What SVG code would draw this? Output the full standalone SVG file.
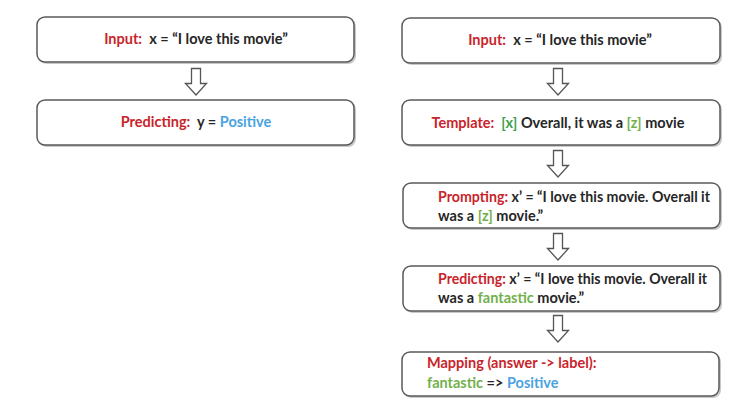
<svg xmlns="http://www.w3.org/2000/svg" width="741" height="402" viewBox="0 0 741 402">
<defs>
<style>
.box{fill:#fff;stroke:#5a5a5a;stroke-width:1.5}
.sh{fill:#c8c8c8}
.arr{fill:#fff;stroke:#555;stroke-width:1.3;stroke-linejoin:miter}
text{font-family:Lato,"Open Sans","Liberation Sans",sans-serif;font-weight:bold;font-size:14.5px;fill:#262626;white-space:pre}
.r{fill:#c9242b}
.g{fill:#3f9e4a}
.lg{fill:#72b04c}
.b{fill:#4aa3df}
</style>
<symbol id="down" viewBox="0 0 24 28" overflow="visible">
<path class="arr" d="M7.5,0.5 H16.5 V15.5 H22.5 L12,27 L1.5,15.5 H7.5 Z"/>
</symbol>
</defs>
<rect width="741" height="402" fill="#fff"/>
<g id="connectors">
<use href="#down" x="184" y="68" width="24" height="28"/>
<use href="#down" x="546" y="68" width="24" height="28"/>
<use href="#down" x="546" y="150" width="24" height="28"/>
<use href="#down" x="546" y="233" width="24" height="28"/>
<use href="#down" x="546" y="315" width="24" height="28"/>
</g>
<g id="left-input">
<rect class="sh" x="39" y="19" width="317" height="45" rx="8"/>
<rect class="box" x="37" y="17" width="317" height="45" rx="8"/>
<text x="196" y="44" text-anchor="middle" xml:space="preserve"><tspan class="r">Input:</tspan>  x = “I love this movie”</text>
</g>
<g id="left-predicting">
<rect class="sh" x="39" y="102" width="317" height="45" rx="8"/>
<rect class="box" x="37" y="100" width="317" height="45" rx="8"/>
<text x="196" y="127" text-anchor="middle" xml:space="preserve"><tspan class="r">Predicting:</tspan>  y = <tspan class="b">Positive</tspan></text>
</g>
<g id="right-input">
<rect class="sh" x="404" y="20" width="318" height="45" rx="8"/>
<rect class="box" x="402" y="18" width="318" height="45" rx="8"/>
<text x="560" y="45" text-anchor="middle" xml:space="preserve"><tspan class="r">Input:</tspan>  x = “I love this movie”</text>
</g>
<g id="template">
<rect class="sh" x="404" y="102" width="318" height="45" rx="8"/>
<rect class="box" x="402" y="100" width="318" height="45" rx="8"/>
<text x="558" y="128" text-anchor="middle" xml:space="preserve"><tspan class="r">Template:</tspan>  <tspan class="g">[x]</tspan> Overall, it was a <tspan class="lg">[z]</tspan> movie</text>
</g>
<g id="prompting">
<rect class="sh" x="405" y="185" width="317" height="45" rx="8"/>
<rect class="box" x="403" y="183" width="317" height="45" rx="8"/>
<text x="438" y="202" xml:space="preserve" textLength="272" lengthAdjust="spacingAndGlyphs"><tspan class="r">Prompting:</tspan> x’ = “I love this movie. Overall it</text>
<text x="438" y="221" xml:space="preserve">was a <tspan class="lg">[z]</tspan> movie.”</text>
</g>
<g id="right-predicting">
<rect class="sh" x="405" y="268" width="317" height="45" rx="8"/>
<rect class="box" x="403" y="266" width="317" height="45" rx="8"/>
<text x="438" y="284" xml:space="preserve" textLength="269" lengthAdjust="spacingAndGlyphs"><tspan class="r">Predicting:</tspan> x’ = “I love this movie. Overall it</text>
<text x="438" y="303" xml:space="preserve">was a <tspan class="lg">fantastic</tspan> movie.”</text>
</g>
<g id="mapping">
<rect class="sh" x="404" y="354" width="317" height="44" rx="8"/>
<rect class="box" x="402" y="352" width="317" height="44" rx="8"/>
<text x="427" y="368" xml:space="preserve"><tspan class="r">Mapping (answer -&gt; label):</tspan></text>
<text x="427" y="388" xml:space="preserve"><tspan class="lg">fantastic</tspan> =&gt; <tspan class="b">Positive</tspan></text>
</g>
</svg>
